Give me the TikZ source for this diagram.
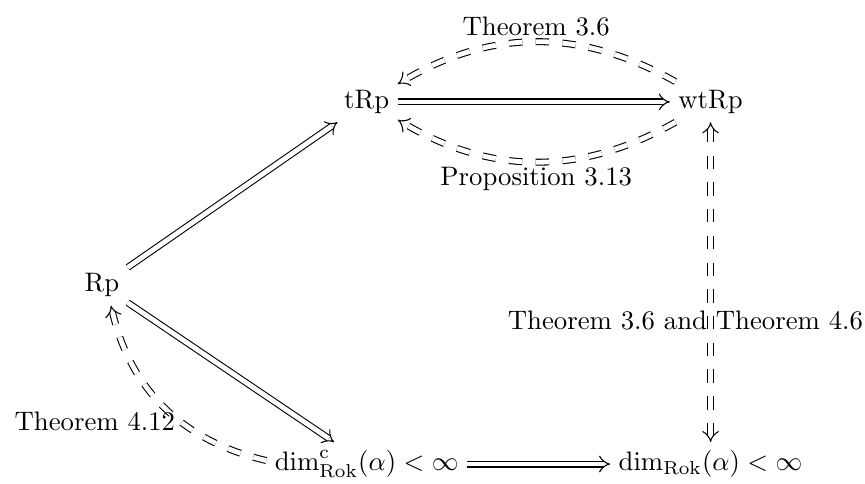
\documentclass[tikz,border=0pt]{standalone}
\usepackage{amsmath}
\usetikzlibrary{arrows.meta, positioning}
\tikzset{
    obj/.style={inner sep=3pt},
    imp/.style={double, double distance=1.8pt, -{Implies}},
    dimp/.style={imp, dash pattern=on 5pt off 5pt},
    bothimp/.style={dimp, {Implies}-{Implies}},
    lbl/.style={inner sep=2pt},
}

\begin{document}
\begin{tikzpicture}
  \useasboundingbox (0,0) rectangle (11.37,6.35);

  % objects
  \node[obj] (tRp)  at (4.82,5.01) {tRp};
  \node[obj] (wtRp) at (9.34,5.01) {wtRp};
  \node[obj] (Rp)   at (1.34,2.60) {Rp};
  \node[obj] (dimc) at (4.82,0.25) {$\dim^{\mathrm{c}}_{\mathrm{Rok}}(\alpha)<\infty$};
  \node[obj] (dimr) at (9.34,0.25) {$\dim_{\mathrm{Rok}}(\alpha)<\infty$};

  % implications
  \draw[imp] (tRp) -- (wtRp);
  \draw[imp] (Rp) -- (tRp);
  \draw[imp] (Rp) -- (dimc);
  \draw[imp] (dimc) -- (dimr);

  % converses
  \draw[dimp] (wtRp) to[bend right=30] node[lbl, above] (l1) {Theorem 3.6} (tRp);
  \draw[dimp] (wtRp) to[bend left=30] node[lbl, below] (l2) {Proposition 3.13} (tRp);
  \draw[dimp] (dimc) to[bend left=32] node[lbl, pos=0.4, left] (l3) {Theorem 4.12} (Rp);
  \draw[bothimp] (wtRp) -- node[lbl, pos=0.62, xshift=-0.33cm] (l4) {Theorem 3.6 and Theorem 4.6} (dimr);

\end{tikzpicture}
\end{document}
